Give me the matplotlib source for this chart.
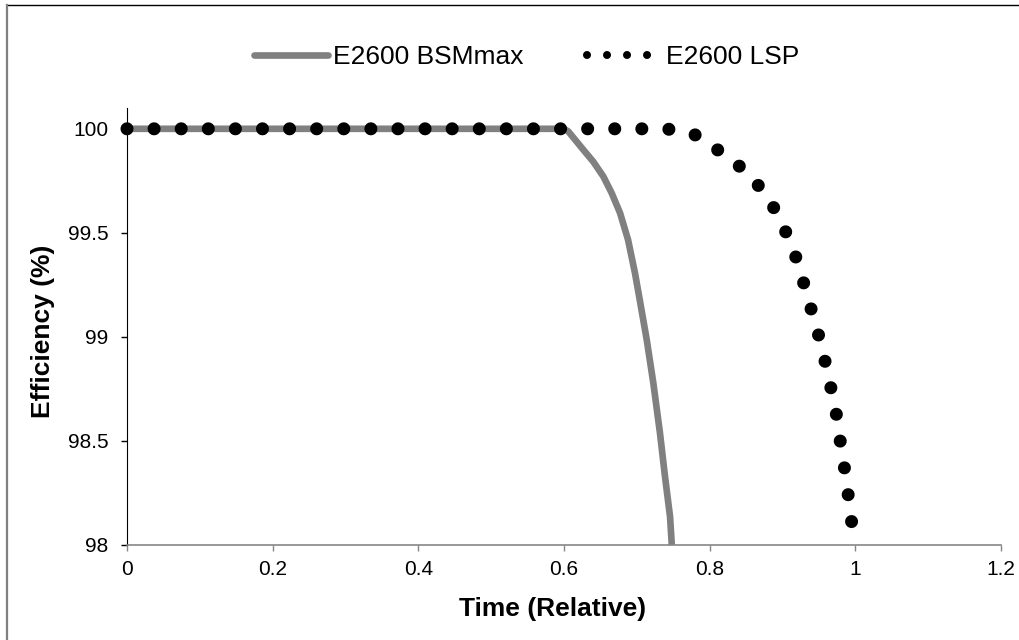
import matplotlib.pyplot as plt
from matplotlib.lines import Line2D

plt.rcParams['font.family'] = ['Liberation Sans', 'DejaVu Sans']

# E2600 BSMmax (solid grey curve)
bsm_x = [0, 0.600, 0.606, 0.6266, 0.640, 0.654, 0.6655, 0.677, 0.688, 0.6975, 0.704,
         0.7136, 0.7227, 0.7318, 0.7387, 0.7456, 0.748]
bsm_y = [100, 100, 99.987, 99.899, 99.843, 99.771, 99.691, 99.595, 99.466, 99.306, 99.178,
         98.986, 98.777, 98.537, 98.328, 98.136, 98.0]

# E2600 LSP (round-dot curve)
lsp_x = [0, 0.740, 0.776, 0.802, 0.829, 0.854, 0.876, 0.895, 0.910, 0.923, 0.932,
         0.943, 0.951, 0.960, 0.968, 0.975, 0.980, 0.986, 0.991, 0.996]
lsp_y = [100, 100, 99.98, 99.92, 99.856, 99.78, 99.69, 99.58, 99.46, 99.34, 99.22,
         99.09, 98.99, 98.86, 98.73, 98.61, 98.48, 98.35, 98.22, 98.08]

xticks = [0, 0.2, 0.4, 0.6, 0.8, 1, 1.2]
xtick_labels = ['0', '0.2', '0.4', '0.6', '0.8', '1', '1.2']
yticks = [98, 98.5, 99, 99.5, 100]
ytick_labels = ['98', '98.5', '99', '99.5', '100']

fig = plt.figure(figsize=(10.2, 6.4), dpi=100)
ax = fig.add_axes([127 / 1020, 95 / 640, 874 / 1020, 437 / 640])

grey = '#808080'
ax.plot(bsm_x, bsm_y, color=grey, lw=4.8, solid_capstyle='butt', solid_joinstyle='round',
        clip_on=False, zorder=2)
dot_lw = 9.4
ax.plot(lsp_x, lsp_y, color='black', lw=dot_lw, linestyle=(0, (0.001, 19.5 / dot_lw)),
        dash_capstyle='round', clip_on=False, zorder=3)

ax.set_xlim(0, 1.2)
ax.set_ylim(98, 100.1)
ax.set_xticks(xticks, xtick_labels)
ax.set_yticks(yticks, ytick_labels)
ax.tick_params(axis='both', labelsize=15, direction='out', length=4)
ax.tick_params(axis='y', pad=9.5, color='black', width=1)
ax.tick_params(axis='x', pad=7, color='#868686', width=1)

for s in ['top', 'right']:
    ax.spines[s].set_visible(False)
ax.spines['left'].set_color('black')
ax.spines['bottom'].set_color('#868686')
ax.spines['bottom'].set_linewidth(1.2)

ax.set_xlabel('Time (Relative)', fontsize=19, fontweight='bold')
ax.set_ylabel('Efficiency (%)', fontsize=19, fontweight='bold')
ax.xaxis.set_label_coords(0.487, -0.118)
ax.yaxis.set_label_coords(-0.082, 0.49)

# legend with proxy handles
h1 = Line2D([], [], color=grey, lw=4.8, solid_capstyle='round')
leg_lw = 5.8
h2 = Line2D([], [], color='black', lw=leg_lw, linestyle=(0, (0.001, 14.4 / leg_lw)),
            dash_capstyle='round')
fig.legend([h1, h2], ['E2600 BSMmax', 'E2600 LSP'], loc='center',
           bbox_to_anchor=(527 / 1020, 1 - 57 / 640), ncol=2, frameon=False,
           fontsize=19, handlelength=2.8, handletextpad=0.2, columnspacing=2.4)

# outer chart border (partly cropped)
fig.add_artist(Line2D([7.5 / 1020, 1], [1 - 4.5 / 640, 1 - 4.5 / 640], color='black', lw=1))
fig.add_artist(Line2D([7.5 / 1020, 7.5 / 1020], [0, 1 - 4.5 / 640], color='#808080', lw=1.6))

fig.savefig('out.png', dpi=100)
